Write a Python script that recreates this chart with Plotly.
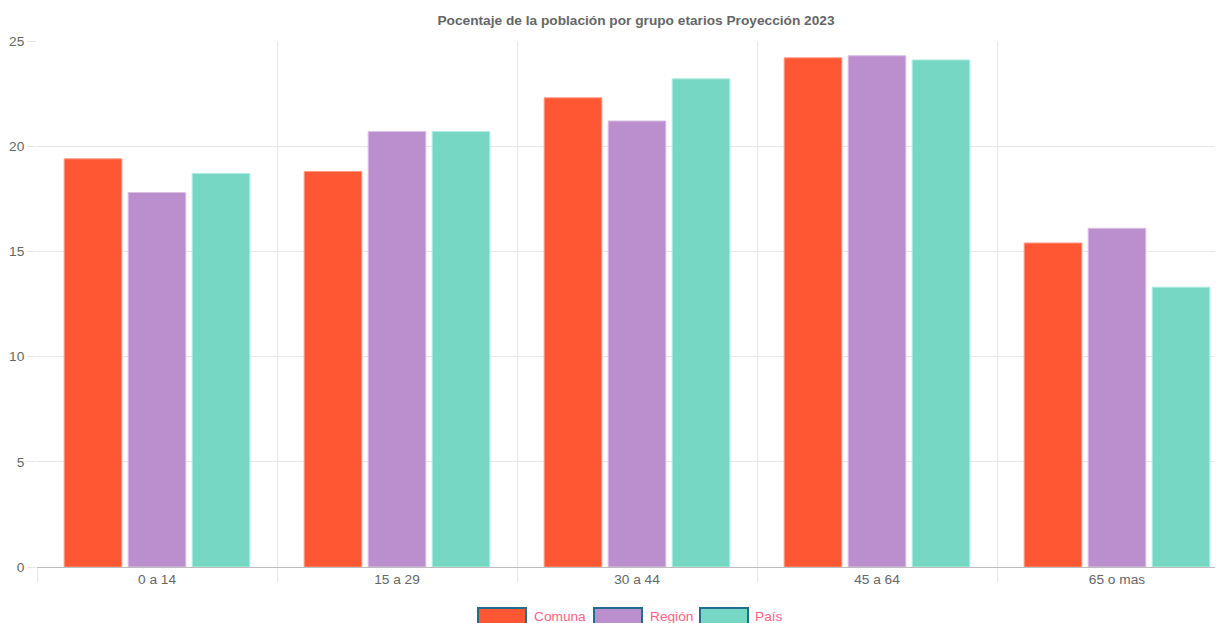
import plotly.graph_objects as go

categories = ["0 a 14", "15 a 29", "30 a 44", "45 a 64", "65 o mas"]
series_names = ["Comuna", "Región", "País"]
comuna = [19.4, 18.8, 22.3, 24.2, 15.4]
region = [17.8, 20.7, 21.2, 24.3, 16.1]
pais = [18.7, 20.7, 23.2, 24.1, 13.3]
fill_colors = ["#FF5733", "#BB8FCE", "#76D7C4"]
line_colors = ["#ff9c86", "#d9c0e4", "#b0ece0"]

# page body has an 8px margin; the figure is sized to fill the rest
W, H = 1215, 615
OFF = 8
fig = go.Figure()
for name, vals, fc, lc in zip(series_names, [comuna, region, pais], fill_colors, line_colors):
    fig.add_trace(go.Bar(x=categories, y=vals, name=name,
                         marker=dict(color=fc, line=dict(color=lc, width=1)),
                         showlegend=False))

plot_w = 1222 - 37
plot_h = 567 - 41
PL, PT, PB = 37 - OFF, 41 - OFF, 567 - OFF
fig.update_layout(
    width=W, height=H, autosize=False,
    margin=dict(l=PL, r=1, t=PT, b=H - PB),
    paper_bgcolor="white", plot_bgcolor="white",
    barmode="group", bargap=0.2, bargroupgap=0.1,
    font=dict(family="Liberation Sans, Arial, sans-serif", size=13.7, color="#666"),
    title=dict(text="<b>Pocentaje de la población por grupo etarios Proyección 2023</b>",
               xref="paper", x=(636 - 37) / plot_w, xanchor="center",
               y=1 - (20 - OFF) / H, yanchor="middle",
               font=dict(size=13.7, color="#666")),
)
fig.update_xaxes(type="category", range=[-0.5, 4.4375], tickson="boundaries",
                 showgrid=True, gridcolor="#e6e6e6", gridwidth=1,
                 ticks="outside", ticklen=14, tickcolor="#e6e6e6",
                 showline=True, linecolor="#bdbdbd", linewidth=1,
                 tickfont=dict(size=13.7, color="#666"))
fig.update_yaxes(range=[0, 25], dtick=5, showgrid=True, gridcolor="#e6e6e6",
                 ticks="outside", ticklen=9, tickcolor="#e6e6e6",
                 zeroline=False, showline=False,
                 tickfont=dict(size=13.7, color="#666"))

# custom legend (Chart.js style boxes), positions in page pixels
legend_items = [(478, 526, 532), (594, 642, 648), (700, 748, 753)]
for (x0, x1, tx), name, fc in zip(legend_items, series_names, fill_colors):
    fig.add_shape(type="rect", xref="paper", yref="paper",
                  x0=(x0 - 37) / plot_w, x1=(x1 - 37) / plot_w,
                  y0=-(626 - 567) / plot_h, y1=-(608 - 567) / plot_h,
                  fillcolor=fc, line=dict(color="#1f6f8b", width=2))
    fig.add_annotation(xref="paper", yref="paper", x=(tx - 37) / plot_w,
                       y=-(616 - 567) / plot_h, text=name, showarrow=False,
                       xanchor="left", yanchor="middle",
                       font=dict(size=13.7, color="#ff6384"))

fig.write_html("out.html")
